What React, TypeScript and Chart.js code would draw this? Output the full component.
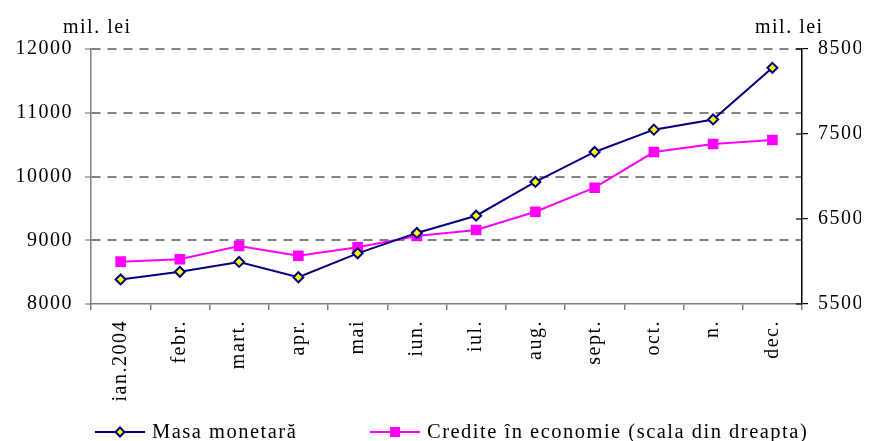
import React, { useEffect, useRef } from 'react';
import { Chart, registerables } from 'chart.js';

Chart.register(...registerables);

const months = ['ian.2004', 'febr.', 'mart.', 'apr.', 'mai', 'iun.', 'iul.', 'aug.', 'sept.', 'oct.', 'n.', 'dec.'];
const masaMonetara = [8385, 8505, 8660, 8420, 8795, 9115, 9385, 9915, 10385, 10735, 10895, 11705];
const crediteEconomie = [5998, 6026, 6182, 6068, 6167, 6300, 6371, 6586, 6868, 7288, 7382, 7429];
const leftAxisRange = [8000, 12000, 1000];
const rightAxisRange = [5500, 8500, 1000];
const seriesNames = ['Masa monetară', 'Credite în economie (scala din dreapta)'];
const unitLabel = 'mil. lei';

const FONT_FAMILY = "'Liberation Serif', 'Times New Roman', serif";
const NAVY = '#000080';
const MAGENTA = '#FF00FF';
const GRAY = '#808080';
const SPACING = '1.5px';

function diamond(ctx: CanvasRenderingContext2D, x: number, y: number, r: number) {
  ctx.beginPath();
  ctx.moveTo(x, y - r);
  ctx.lineTo(x + r, y);
  ctx.lineTo(x, y + r);
  ctx.lineTo(x - r, y);
  ctx.closePath();
  ctx.fillStyle = '#FFFF00';
  ctx.fill();
  ctx.lineWidth = 2;
  ctx.strokeStyle = NAVY;
  ctx.stroke();
}

const decorPlugin = {
  id: 'decor',
  beforeUpdate(chart: any) {
    chart.ctx.letterSpacing = SPACING;
  },
  beforeDraw(chart: any) {
    chart.ctx.letterSpacing = SPACING;
  },
  afterDraw(chart: any) {
    const ctx = chart.ctx as CanvasRenderingContext2D;
    const area = chart.chartArea;
    ctx.save();
    (ctx as any).letterSpacing = SPACING;
    const y1 = chart.scales.y1;
    ctx.strokeStyle = '#000';
    ctx.lineWidth = 1.2;
    y1.ticks.forEach((t: any) => {
      const py = y1.getPixelForValue(t.value);
      ctx.beginPath();
      ctx.moveTo(area.right - 6, py);
      ctx.lineTo(area.right, py);
      ctx.stroke();
    });
    ctx.fillStyle = '#000';
    ctx.font = `20px ${FONT_FAMILY}`;
    ctx.textBaseline = 'middle';
    ctx.textAlign = 'left';
    ctx.fillText(unitLabel, 55, 20);
    ctx.fillText(unitLabel, 747, 20);
    const ly = 424;
    ctx.font = `20.5px ${FONT_FAMILY}`;
    ctx.lineWidth = 2;
    ctx.strokeStyle = NAVY;
    ctx.beginPath();
    ctx.moveTo(87, ly);
    ctx.lineTo(137, ly);
    ctx.stroke();
    diamond(ctx, 112, ly, 4.5);
    ctx.fillStyle = '#000';
    ctx.fillText(seriesNames[0], 144, ly + 1);
    ctx.strokeStyle = MAGENTA;
    ctx.lineWidth = 2;
    ctx.beginPath();
    ctx.moveTo(362, ly);
    ctx.lineTo(412, ly);
    ctx.stroke();
    ctx.fillStyle = MAGENTA;
    ctx.fillRect(387 - 5, ly - 5, 10, 10);
    ctx.fillStyle = '#000';
    ctx.fillText(seriesNames[1], 419, ly + 1);
    ctx.restore();
  },
};

const plain = (v: any) => String(v);

export default function App() {
  const ref = useRef<HTMLCanvasElement>(null);
  useEffect(() => {
    if (!ref.current) return;
    const tickFont = { family: FONT_FAMILY, size: 20 };
    const chart = new Chart(ref.current, {
      type: 'line',
      data: {
        labels: months,
        datasets: [
          {
            label: seriesNames[0],
            data: masaMonetara,
            yAxisID: 'y',
            borderColor: NAVY,
            borderWidth: 2,
            pointStyle: 'rectRot',
            pointRadius: 5,
            pointBackgroundColor: '#FFFF00',
            pointBorderColor: NAVY,
            pointBorderWidth: 2,
            tension: 0,
          },
          {
            label: seriesNames[1],
            data: crediteEconomie,
            yAxisID: 'y1',
            borderColor: MAGENTA,
            borderWidth: 2,
            pointStyle: 'rect',
            pointRadius: 7.5,
            pointBackgroundColor: MAGENTA,
            pointBorderColor: MAGENTA,
            pointBorderWidth: 0,
            tension: 0,
          },
        ],
      },
      options: {
        responsive: false,
        animation: false,
        events: [],
        layout: { padding: { top: 41, bottom: 37, left: 0, right: 0 } },
        plugins: { legend: { display: false }, tooltip: { enabled: false } },
        scales: {
          x: {
            type: 'category',
            offset: true,
            afterFit: (s: any) => { s.height = 100; },
            grid: {
              display: true,
              drawOnChartArea: false,
              offset: true,
              tickLength: 6,
              color: GRAY,
              lineWidth: 1.5,
            },
            border: { display: true, color: GRAY, width: 1.5 },
            ticks: {
              font: tickFont,
              color: '#000',
              minRotation: 90,
              maxRotation: 90,
              padding: 10,
              autoSkip: false,
            },
          },
          y: {
            position: 'left',
            min: leftAxisRange[0],
            max: leftAxisRange[1],
            afterFit: (s: any) => { s.width = 83; },
            ticks: { stepSize: leftAxisRange[2], font: tickFont, color: '#000', padding: 12, callback: plain },
            grid: {
              color: (c: any) => (c.tick && c.tick.value === leftAxisRange[0] ? 'rgba(0,0,0,0)' : GRAY),
              tickColor: GRAY,
              lineWidth: 2,
              tickWidth: 1.2,
              tickLength: 6,
              tickBorderDash: [],
            },
            border: { display: true, color: GRAY, width: 1.5, dash: [9, 7] },
          },
          y1: {
            position: 'right',
            min: rightAxisRange[0],
            max: rightAxisRange[1],
            afterFit: (s: any) => { s.width = 59; },
            ticks: { stepSize: rightAxisRange[2], font: tickFont, color: '#000', padding: 10, callback: plain },
            grid: {
              drawOnChartArea: false,
              color: '#000',
              tickLength: 6,
              lineWidth: 1.2,
            },
            border: { display: true, color: '#000', width: 1.5 },
          },
        },
      },
      plugins: [decorPlugin],
    });
    return () => chart.destroy();
  }, []);
  return (
    <div style={{ width: 853, height: 433 }}>
      <canvas ref={ref} width={853} height={433} style={{ display: 'block', width: 853, height: 433 }} />
    </div>
  );
}
